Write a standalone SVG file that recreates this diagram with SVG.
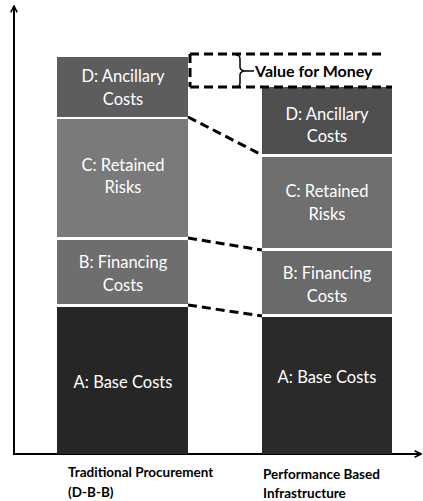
<svg xmlns="http://www.w3.org/2000/svg" width="423" height="501" viewBox="0 0 423 501">
<defs>
<style>
.lbl{font-family:Lato,"Open Sans","Liberation Sans",sans-serif;font-size:16.5px;fill:#ffffff;text-anchor:middle}
.ax{font-family:Lato,"Open Sans","Liberation Sans",sans-serif;font-size:13.5px;font-weight:bold;fill:#000}
.dash{stroke:#000;stroke-width:3;stroke-dasharray:9 5;fill:none}
.axis{stroke:#000;stroke-width:2;fill:none}
</style>
<marker id="ah" viewBox="0 0 10 10" refX="9" refY="5" markerWidth="8" markerHeight="8" markerUnits="userSpaceOnUse" orient="auto">
<path d="M1,1 L9,5 L1,9" fill="none" stroke="#000" stroke-width="2"/>
</marker>
</defs>
<rect width="423" height="501" fill="#fff"/>
<g id="axes">
<line class="axis" x1="14" y1="455" x2="14" y2="6" marker-end="url(#ah)"/>
<line class="axis" x1="13" y1="454" x2="421" y2="454" marker-end="url(#ah)"/>
</g>
<g id="left-D"><rect x="57" y="57" width="131" height="60" fill="#5d5d5d"/><text class="lbl" x="123" y="82">D: Ancillary</text><text class="lbl" x="123" y="105">Costs</text></g>
<g id="left-C"><rect x="57" y="119" width="131" height="118" fill="#7a7a7a"/><text class="lbl" x="123" y="171">C: Retained</text><text class="lbl" x="123" y="193">Risks</text></g>
<g id="left-B"><rect x="57" y="240" width="131" height="64" fill="#6e6e6e"/><text class="lbl" x="123" y="268">B: Financing</text><text class="lbl" x="123" y="291">Costs</text></g>
<g id="left-A"><rect x="57" y="307" width="131" height="147" fill="#262626"/><text class="lbl" x="123" y="388">A: Base Costs</text></g>
<g id="right-D"><rect x="262" y="87" width="130" height="67" fill="#4f4f4f"/><text class="lbl" x="327" y="120">D: Ancillary</text><text class="lbl" x="327" y="142">Costs</text></g>
<g id="right-C"><rect x="262" y="157" width="130" height="91" fill="#6f6f6f"/><text class="lbl" x="327" y="197">C: Retained</text><text class="lbl" x="327" y="220">Risks</text></g>
<g id="right-B"><rect x="262" y="251" width="130" height="63" fill="#6a6a6a"/><text class="lbl" x="327" y="279">B: Financing</text><text class="lbl" x="327" y="302">Costs</text></g>
<g id="right-A"><rect x="262" y="317" width="130" height="137" fill="#2a2a2a"/><text class="lbl" x="327" y="383">A: Base Costs</text></g>
<g id="connectors">
<path class="dash" d="M190,54 H386"/>
<path class="dash" d="M190,87 H392"/>
<path class="dash" d="M190,54 V87"/>
<path class="dash" d="M188,117 L262,155"/>
<path class="dash" d="M188,238 L262,250"/>
<path class="dash" d="M188,305 L262,316"/>
<path d="M236,55 Q240,55 240,59 V67 Q240,70 244,71 Q240,72 240,75 V83 Q240,87 236,87" fill="none" stroke="#000" stroke-width="1.5"/>
<line x1="244" y1="71" x2="254" y2="71" stroke="#000" stroke-width="1.5"/>
</g>
<g id="vfm"><text x="255" y="77" font-family="Lato,'Open Sans','Liberation Sans',sans-serif" font-size="16" font-weight="bold" fill="#000">Value for Money</text></g>
<g id="labels">
<text class="ax" x="68" y="477">Traditional Procurement</text>
<text class="ax" x="68" y="497">(D-B-B)</text>
<text class="ax" x="263" y="479">Performance Based</text>
<text class="ax" x="263" y="498">Infrastructure</text>
</g>
</svg>
